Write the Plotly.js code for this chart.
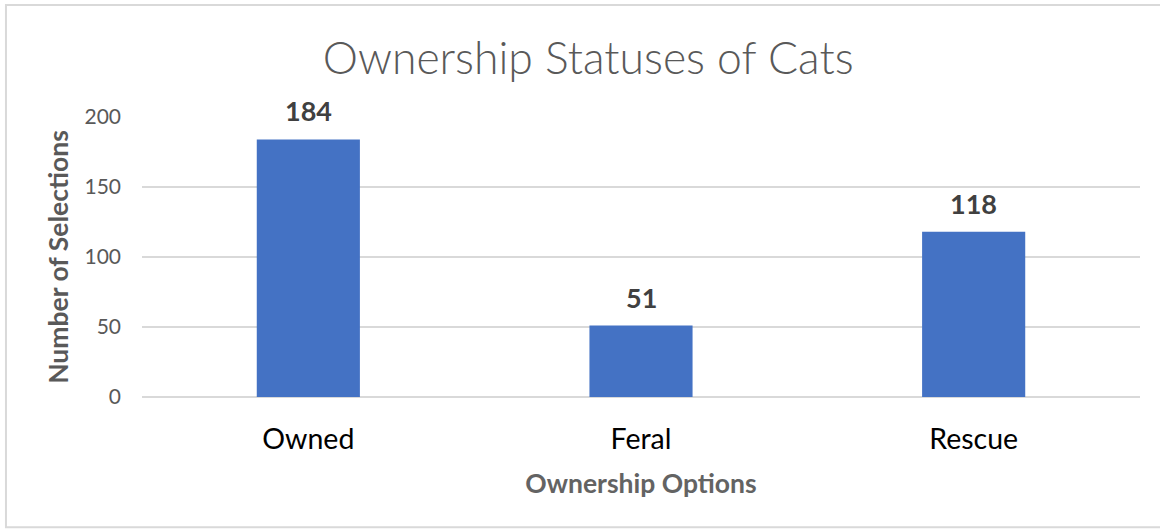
<!DOCTYPE html>
<html>
<head>
<meta charset="utf-8">
<script src="https://cdn.plot.ly/plotly-3.0.1.min.js"></script>
<style>html,body{margin:0;padding:0;background:#fff;}#chart{width:1160px;height:529px;}</style>
</head>
<body>
<div id="chart"></div>
<script>
const categories = ["Owned", "Feral", "Rescue"];
const selections = [184, 51, 118];
const yTicks = [0, 50, 100, 150, 200];

const FONT = "Lato, Carlito, 'Noto Sans', sans-serif";

const trace = {
  type: "bar",
  x: categories,
  y: selections,
  marker: {color: "#4472C4"},
  width: 0.31,
  hoverinfo: "x+y"
};

const annotations = categories.map((c, i) => ({
  x: c, y: selections[i], xref: "x", yref: "y",
  text: "<b>" + selections[i] + "</b>",
  showarrow: false, yanchor: "bottom", yshift: 10,
  font: {family: FONT, size: 27, color: "#404040"}
}));

const layout = {
  width: 1160, height: 529,
  margin: {l: 142, r: 20, t: 117, b: 132},
  paper_bgcolor: "#fff", plot_bgcolor: "#fff",
  showlegend: false,
  title: {
    text: "Ownership Statuses of Cats",
    font: {family: FONT, size: 44.5, color: "#595959", weight: 300},
    x: 0.507, xanchor: "center", y: 0.89, yanchor: "middle", yref: "container"
  },
  xaxis: {
    type: "category",
    tickfont: {family: FONT, size: 28.5, color: "#000"},
    ticklabelstandoff: 22,
    showgrid: false, zeroline: false, showline: false, ticks: "",
    title: {text: "<b>Ownership Options</b>", font: {family: FONT, size: 26.5, color: "#636363"}, standoff: 20}
  },
  yaxis: {
    range: [0, 200],
    tickvals: yTicks,
    tickfont: {family: FONT, size: 21, color: "#595959"},
    ticklabelstandoff: 20,
    gridcolor: "#d9d9d9", gridwidth: 1.3,
    zeroline: true, zerolinecolor: "#d9d9d9", zerolinewidth: 1.5,
    showline: false, ticks: "",
    title: {text: "<b>Number of Selections</b>", font: {family: FONT, size: 26.5, color: "#595959"}, standoff: 8}
  },
  annotations: annotations,
  shapes: [{
    type: "rect", xref: "paper", yref: "paper",
    x0: -0.1363, x1: 1.04, y0: -0.465, y1: 1.4,
    line: {color: "#d9d9d9", width: 2}, fillcolor: "rgba(0,0,0,0)", layer: "below"
  }]
};

Plotly.newPlot("chart", [trace], layout, {displayModeBar: false, staticPlot: true});
</script>
</body>
</html>
